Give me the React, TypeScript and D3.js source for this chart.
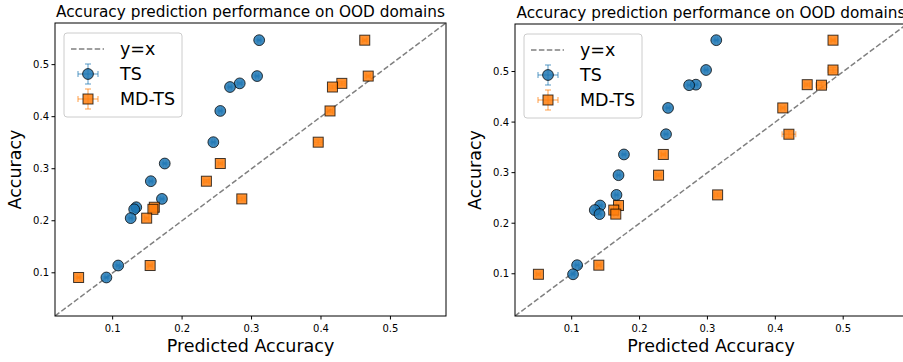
import React, { useEffect, useRef } from 'react';
import * as d3 from 'd3';

// left panel
const accLeft = [0.547, 0.478, 0.464, 0.457, 0.411, 0.351, 0.31, 0.276, 0.242, 0.226, 0.222, 0.205, 0.114, 0.091];
const tsLeft = [0.311, 0.308, 0.283, 0.269, 0.255, 0.245, 0.175, 0.155, 0.171, 0.134, 0.131, 0.126, 0.108, 0.091];
const mdLeft = [0.463, 0.468, 0.43, 0.4165, 0.413, 0.396, 0.255, 0.235, 0.286, 0.16, 0.158, 0.149, 0.154, 0.051];
const tsErrLeft = [0.002, 0.002, 0.003, 0.002, 0.002, 0.002, 0.002, 0.002, 0.002, 0.002, 0.002, 0.002, 0.002, 0.002];
const mdErrLeft = [0.003, 0.003, 0.005, 0.005, 0.004, 0.006, 0.003, 0.004, 0.005, 0.003, 0.003, 0.003, 0.003, 0.002];

// right panel
const accRight = [0.562, 0.503, 0.474, 0.473, 0.428, 0.376, 0.336, 0.295, 0.256, 0.235, 0.226, 0.218, 0.117, 0.099];
const tsRight = [0.313, 0.298, 0.283, 0.273, 0.242, 0.239, 0.177, 0.169, 0.166, 0.142, 0.134, 0.141, 0.108, 0.102];
const mdRight = [0.485, 0.485, 0.447, 0.468, 0.411, 0.42, 0.235, 0.228, 0.315, 0.169, 0.162, 0.165, 0.14, 0.051];
const tsErrRight = [0.002, 0.002, 0.002, 0.002, 0.002, 0.002, 0.002, 0.002, 0.002, 0.002, 0.002, 0.002, 0.002, 0.002];
const mdErrRight = [0.003, 0.007, 0.004, 0.008, 0.003, 0.01, 0.003, 0.004, 0.005, 0.003, 0.003, 0.003, 0.003, 0.003];

const ticks = [0.1, 0.2, 0.3, 0.4, 0.5];
const title = 'Accuracy prediction performance on OOD domains';

const panels = [
  { x0: 55, x1: 446, y0: 23, y1: 316, lo: 0.017, hi: 0.58, acc: accLeft, ts: tsLeft, md: mdLeft, tsErr: tsErrLeft, mdErr: mdErrLeft },
  { x0: 515, x1: 907, y0: 24, y1: 316, lo: 0.0165, hi: 0.594, acc: accRight, ts: tsRight, md: mdRight, tsErr: tsErrRight, mdErr: mdErrRight },
];

const BLUE = '#1f77b4';
const ORANGE = '#ff7f0e';
const FONT = 'DejaVu Sans, sans-serif';

const App = () => {
  const ref = useRef<SVGSVGElement>(null);

  useEffect(() => {
    const svg = d3.select(ref.current);
    svg.selectAll('*').remove();

    panels.forEach((p) => {
      const x = d3.scaleLinear().domain([p.lo, p.hi]).range([p.x0, p.x1]);
      const y = d3.scaleLinear().domain([p.lo, p.hi]).range([p.y1, p.y0]);
      const g = svg.append('g');

      const clipId = `clip-${p.x0}`;
      g.append('clipPath').attr('id', clipId)
        .append('rect').attr('x', p.x0).attr('y', p.y0).attr('width', p.x1 - p.x0).attr('height', p.y1 - p.y0);

      const plot = g.append('g').attr('clip-path', `url(#${clipId})`);

      // y = x line
      plot.append('line')
        .attr('x1', x(p.lo)).attr('y1', y(p.lo))
        .attr('x2', x(p.hi)).attr('y2', y(p.hi))
        .attr('stroke', 'gray').attr('stroke-width', 1.5)
        .attr('stroke-dasharray', '5.5,2.4');

      const drawSeries = (xs: number[], errs: number[], color: string, shape: string) => {
        const eb = plot.append('g').attr('stroke', color).attr('stroke-opacity', 0.5).attr('stroke-width', 1.5);
        xs.forEach((v, i) => {
          const cx = x(v);
          const cy = y(p.acc[i]);
          const ex = errs[i];
          const ey = errs[i] * 0.7;
          eb.append('line').attr('x1', x(v - ex)).attr('x2', x(v + ex)).attr('y1', cy).attr('y2', cy);
          eb.append('line').attr('x1', cx).attr('x2', cx).attr('y1', y(p.acc[i] - ey)).attr('y2', y(p.acc[i] + ey));
          eb.append('line').attr('x1', x(v - ex)).attr('x2', x(v - ex)).attr('y1', cy - 3).attr('y2', cy + 3);
          eb.append('line').attr('x1', x(v + ex)).attr('x2', x(v + ex)).attr('y1', cy - 3).attr('y2', cy + 3);
          eb.append('line').attr('x1', cx - 3).attr('x2', cx + 3).attr('y1', y(p.acc[i] - ey)).attr('y2', y(p.acc[i] - ey));
          eb.append('line').attr('x1', cx - 3).attr('x2', cx + 3).attr('y1', y(p.acc[i] + ey)).attr('y2', y(p.acc[i] + ey));
        });
        const mk = plot.append('g');
        xs.forEach((v, i) => {
          const cx = x(v);
          const cy = y(p.acc[i]);
          const node = shape === 'circle'
            ? mk.append('circle').attr('cx', cx).attr('cy', cy).attr('r', 5.4)
            : mk.append('rect').attr('x', cx - 5).attr('y', cy - 5).attr('width', 10).attr('height', 10);
          node.attr('fill', color).attr('fill-opacity', 0.85)
            .attr('stroke', '#000').attr('stroke-opacity', 0.75).attr('stroke-width', 1);
        });
      };

      drawSeries(p.ts, p.tsErr, BLUE, 'circle');
      drawSeries(p.md, p.mdErr, ORANGE, 'square');

      // frame
      g.append('rect')
        .attr('x', p.x0).attr('y', p.y0).attr('width', p.x1 - p.x0).attr('height', p.y1 - p.y0)
        .attr('fill', 'none').attr('stroke', '#000').attr('stroke-width', 1);

      // ticks
      ticks.forEach((t) => {
        g.append('line').attr('x1', x(t)).attr('x2', x(t)).attr('y1', p.y1).attr('y2', p.y1 + 3.5).attr('stroke', '#000');
        g.append('text').attr('x', x(t)).attr('y', p.y1 + 15.5)
          .attr('text-anchor', 'middle').attr('font-family', FONT).attr('font-size', 10).text(String(t));
        g.append('line').attr('x1', p.x0 - 3.5).attr('x2', p.x0).attr('y1', y(t)).attr('y2', y(t)).attr('stroke', '#000');
        g.append('text').attr('x', p.x0 - 6).attr('y', y(t)).attr('dy', '0.35em')
          .attr('text-anchor', 'end').attr('font-family', FONT).attr('font-size', 10).text(String(t));
      });

      // labels
      const cxm = (p.x0 + p.x1) / 2;
      g.append('text').attr('x', cxm).attr('y', p.y0 - 6).attr('text-anchor', 'middle')
        .attr('font-family', FONT).attr('font-size', 15.3).text(title);
      g.append('text').attr('x', cxm).attr('y', 352).attr('text-anchor', 'middle')
        .attr('font-family', FONT).attr('font-size', 17.5).text('Predicted Accuracy');
      g.append('text')
        .attr('transform', `translate(${p.x0 - 34},${(p.y0 + p.y1) / 2}) rotate(-90)`)
        .attr('text-anchor', 'middle').attr('font-family', FONT).attr('font-size', 17.5).text('Accuracy');

      // legend
      const lx = p.x0 + 9;
      const ly = p.y0 + 10;
      const lg = g.append('g').attr('transform', `translate(${lx},${ly})`);
      lg.append('rect').attr('width', 118).attr('height', 84).attr('rx', 3)
        .attr('fill', '#fff').attr('fill-opacity', 0.8).attr('stroke', '#ccc');
      const rows = [
        { label: 'y=x', kind: 'line', color: 'gray' },
        { label: 'TS', kind: 'circle', color: BLUE },
        { label: 'MD-TS', kind: 'square', color: ORANGE },
      ];
      rows.forEach((r, i) => {
        const ry = 16 + i * 25;
        const hx = 24;
        if (r.kind === 'line') {
          lg.append('line').attr('x1', 7).attr('x2', 40).attr('y1', ry).attr('y2', ry)
            .attr('stroke', 'gray').attr('stroke-width', 1.5).attr('stroke-dasharray', '5.5,2.4');
        } else {
          const e = lg.append('g').attr('stroke', r.color).attr('stroke-opacity', 0.5).attr('stroke-width', 1.5);
          e.append('line').attr('x1', hx - 10).attr('x2', hx + 10).attr('y1', ry).attr('y2', ry);
          e.append('line').attr('x1', hx).attr('x2', hx).attr('y1', ry - 10).attr('y2', ry + 10);
          e.append('line').attr('x1', hx - 10).attr('x2', hx - 10).attr('y1', ry - 3).attr('y2', ry + 3);
          e.append('line').attr('x1', hx + 10).attr('x2', hx + 10).attr('y1', ry - 3).attr('y2', ry + 3);
          e.append('line').attr('x1', hx - 3).attr('x2', hx + 3).attr('y1', ry - 10).attr('y2', ry - 10);
          e.append('line').attr('x1', hx - 3).attr('x2', hx + 3).attr('y1', ry + 10).attr('y2', ry + 10);
          const m = r.kind === 'circle'
            ? lg.append('circle').attr('cx', hx).attr('cy', ry).attr('r', 5.4)
            : lg.append('rect').attr('x', hx - 5).attr('y', ry - 5).attr('width', 10).attr('height', 10);
          m.attr('fill', r.color).attr('fill-opacity', 0.85).attr('stroke', '#000').attr('stroke-opacity', 0.75);
        }
        lg.append('text').attr('x', 56).attr('y', ry).attr('dy', '0.35em')
          .attr('font-family', FONT).attr('font-size', 17.5).text(r.label);
      });
    });
  }, []);

  return (
    <svg ref={ref} width={903} height={362} style={{ position: 'absolute', left: 0, top: 0, background: '#fff' }} />
  );
};

export default App;
